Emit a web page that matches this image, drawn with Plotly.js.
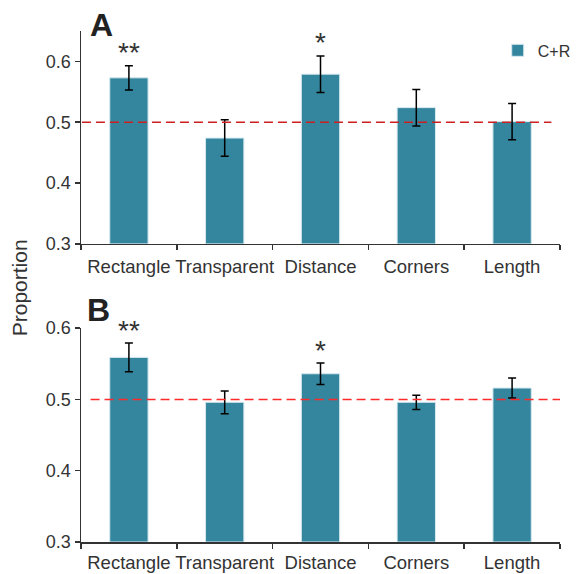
<!DOCTYPE html>
<html>
<head>
<meta charset="utf-8">
<script src="https://cdn.plot.ly/plotly-3.0.1.min.js"></script>
<style>html,body{margin:0;padding:0;background:#fff;}#chart{width:577px;height:574px;}</style>
</head>
<body>
<div id="chart"></div>
<script>
const categories = ['Rectangle', 'Transparent', 'Distance', 'Corners', 'Length'];
const valuesA = [0.573, 0.474, 0.579, 0.524, 0.501];
const errorsA = [0.020, 0.030, 0.030, 0.030, 0.030];
const starsA = ['**', '', '*', '', ''];
const valuesB = [0.559, 0.496, 0.536, 0.496, 0.516];
const errorsB = [0.020, 0.016, 0.015, 0.010, 0.014];
const starsB = ['**', '', '*', '', ''];
const chanceLevel = 0.5;
const yTicks = [0.3, 0.4, 0.5, 0.6];
const seriesName = 'C+R';

const barColor = '#33869e';
const textColor = '#333333';
const font = 'Liberation Sans, Arial, sans-serif';

function barTrace(vals, errs, xa, ya, show) {
  return {
    type: 'bar', x: categories, y: vals, xaxis: xa, yaxis: ya,
    name: seriesName, showlegend: show,
    marker: {color: barColor, line: {color: '#d6e8ee', width: 1}},
    error_y: {type: 'data', array: errs, visible: true, color: '#000', thickness: 1.5, width: 4},
    width: 0.4, base: 0.3, cliponaxis: false,
    hoverinfo: 'skip'
  };
}
const trA = barTrace(valuesA.map(v => v - 0.3), errorsA, 'x', 'y', true);
const trB = barTrace(valuesB.map(v => v - 0.3), errorsB, 'x2', 'y2', false);

function xAxis(anchor, standoff) {
  return {
    domain: [0, 1], anchor: anchor, type: 'category', range: [-0.5, 4.5],
    showline: true, linecolor: textColor, linewidth: 1.5, ticks: 'outside', ticklen: 5,
    tickwidth: 1.5, tickcolor: textColor, tickson: 'boundaries', showgrid: false, zeroline: false,
    tickangle: 0, automargin: false, ticklabelstandoff: standoff,
    tickfont: {family: font, size: 18.5, color: textColor}, fixedrange: true
  };
}
function yAxis(anchor, domain, range) {
  return {
    domain: domain, anchor: anchor, range: range, tickvals: yTicks, ticktext: yTicks.map(v => v.toFixed(1)),
    showline: true, linecolor: textColor, linewidth: 1.5, ticks: 'outside', ticklen: 5,
    tickwidth: 1.5, tickcolor: textColor, showgrid: false, zeroline: false, automargin: false,
    tickfont: {family: font, size: 18, color: textColor}, fixedrange: true
  };
}

const annotations = [];
function addStars(stars, vals, errs, xa, ya) {
  stars.forEach((s, i) => {
    if (!s) return;
    annotations.push({text: s, x: categories[i], y: vals[i] + errs[i], xref: xa, yref: ya,
      showarrow: false, yanchor: 'middle', yshift: 13, font: {family: font, size: 28, color: textColor}});
  });
}
addStars(starsA, valuesA, errorsA, 'x', 'y');
addStars(starsB, valuesB, errorsB, 'x2', 'y2');
annotations.push({text: '<b>A</b>', xref: 'paper', yref: 'paper', x: 0.0424, y: 1.0127, showarrow: false,
  xanchor: 'center', yanchor: 'middle', font: {family: font, size: 32, color: '#222'}});
annotations.push({text: '<b>B</b>', xref: 'paper', yref: 'paper', x: 0.0374, y: 0.4543, showarrow: false,
  xanchor: 'center', yanchor: 'middle', font: {family: font, size: 32, color: '#222'}});
annotations.push({text: 'Proportion', xref: 'paper', yref: 'paper', x: -0.129, y: 0.497, showarrow: false,
  textangle: -90, xanchor: 'center', yanchor: 'middle', font: {family: font, size: 21, color: textColor}});

const shapes = [
  {type: 'line', xref: 'x domain', yref: 'y', x0: 0.002, x1: 0.982, y0: chanceLevel, y1: chanceLevel,
   line: {color: '#cc2020', width: 1.5, dash: '9px,5px'}},
  {type: 'line', xref: 'x2 domain', yref: 'y2', x0: 0.02, x1: 1.0, y0: chanceLevel, y1: chanceLevel,
   line: {color: '#ff2a2a', width: 1.5, dash: '9px,5px'}}
];

const layout = {
  width: 577, height: 574,
  margin: {l: 81, r: 1, t: 31, b: 32},
  paper_bgcolor: '#fff', plot_bgcolor: '#fff',
  bargap: 0.6,
  xaxis: xAxis('y', 5), yaxis: yAxis('x', [0.5834, 1], [0.3, 0.65]),
  xaxis2: xAxis('y2', 3), yaxis2: yAxis('x2', [0, 0.4185], [0.3, 0.6]),
  showlegend: true,
  legend: {x: 0.87, y: 0.962, xanchor: 'left', yanchor: 'middle', bgcolor: 'rgba(0,0,0,0)',
    font: {family: font, size: 16, color: textColor}, itemwidth: 30},
  annotations: annotations, shapes: shapes
};

Plotly.newPlot('chart', [trA, trB], layout, {displayModeBar: false, staticPlot: true});
</script>
</body>
</html>
